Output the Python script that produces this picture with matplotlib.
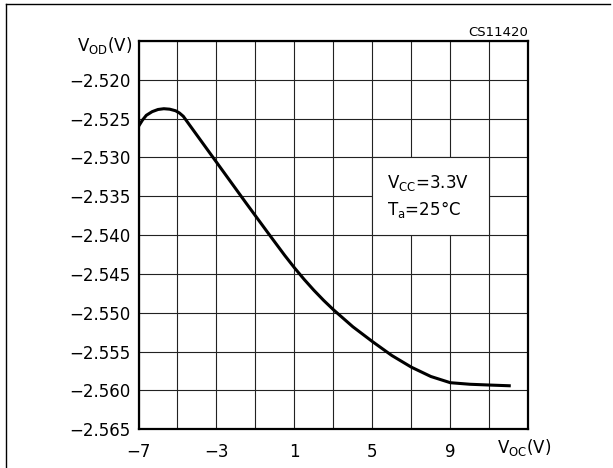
import numpy as np
import matplotlib
matplotlib.use('Agg')
import matplotlib.pyplot as plt
from matplotlib.patches import Rectangle
from matplotlib.lines import Line2D

plt.rcParams['font.family'] = ['DejaVu Sans']
plt.rcParams['mathtext.default'] = 'regular'

# values
voc = [-7, -6.8, -6.6, -6.3, -6.0, -5.7, -5.4, -5.1, -4.9, -4.7, -4.5, -3, -1.5, -0.3,
       0.5, 1, 1.5, 2, 2.5, 3, 4, 5, 6, 7, 8, 9, 10, 11, 12.1]
vod = [-2.5260, -2.5252, -2.52457, -2.5241, -2.52382, -2.52372, -2.52378, -2.52398,
       -2.52427, -2.5247, -2.5254, -2.5306, -2.5358, -2.5399, -2.5426, -2.5442, -2.5457,
       -2.5471, -2.5484, -2.5496, -2.5518, -2.5537, -2.5555, -2.5570, -2.5582, -2.5590,
       -2.5592, -2.5593, -2.5594]

x_ticks = np.arange(-7, 14, 2)
x_labels = ['-7', '', '-3', '', '1', '', '5', '', '9', '', '']
y_ticks = [-2.565, -2.560, -2.555, -2.550, -2.545, -2.540, -2.535, -2.530, -2.525, -2.520, -2.515]
y_labels = ['-2.565', '-2.560', '-2.555', '-2.550', '-2.545', '-2.540', '-2.535',
            '-2.530', '-2.525', '-2.520', '']

W, H = 613, 468
fig = plt.figure(figsize=(W / 100, H / 100), dpi=100)
ax = fig.add_axes([138.5 / W, 1 - 429.3 / H, (528.3 - 138.5) / W, (429.3 - 41) / H])

ax.set_xlim(-7, 13)
ax.set_ylim(-2.565, -2.515)
ax.set_xticks(x_ticks)
ax.set_xticklabels([s.replace('-', '\u2212') for s in x_labels])
ax.set_yticks(y_ticks)
ax.set_yticklabels([s.replace('-', '\u2212') for s in y_labels])
ax.tick_params(length=0, labelsize=12, colors='black')
ax.tick_params(axis='x', pad=10)
ax.tick_params(axis='y', pad=6)

ax.set_axisbelow(True)
ax.grid(True, color='#222222', linewidth=0.8)
for s in ax.spines.values():
    s.set_linewidth(1.6)

# white box behind the conditions text (covers the grid between x=5..11)
ax.add_patch(Rectangle((5, -2.540), 6, 0.010, facecolor='white', edgecolor='#222222',
                       linewidth=0.8, zorder=1))

ax.plot(voc, vod, color='black', linewidth=2.2, solid_joinstyle='round',
        solid_capstyle='butt', zorder=3)

fig.text(132 / W, 1 - 46 / H, 'V$_{OD}$(V)', ha='right', va='center', fontsize=12)
fig.text(497 / W, 1 - 448 / H, 'V$_{OC}$(V)', ha='left', va='center', fontsize=12)
fig.text(528 / W, 1 - 32 / H, 'CS11420', ha='right', va='center', fontsize=9.5)
fig.text(387 / W, 1 - 183 / H, 'V$_{CC}$=3.3V', ha='left', va='center', fontsize=12)
fig.text(387 / W, 1 - 210 / H, 'T$_{a}$=25°C', ha='left', va='center', fontsize=12)

# frame lines (top and left only)
fig.add_artist(Line2D([6 / W, 610 / W], [1 - 4 / H, 1 - 4 / H], color='black', linewidth=1))
fig.add_artist(Line2D([6 / W, 6 / W], [1 - 4 / H, 0], color='black', linewidth=1))

fig.savefig('out.png', dpi=100)
